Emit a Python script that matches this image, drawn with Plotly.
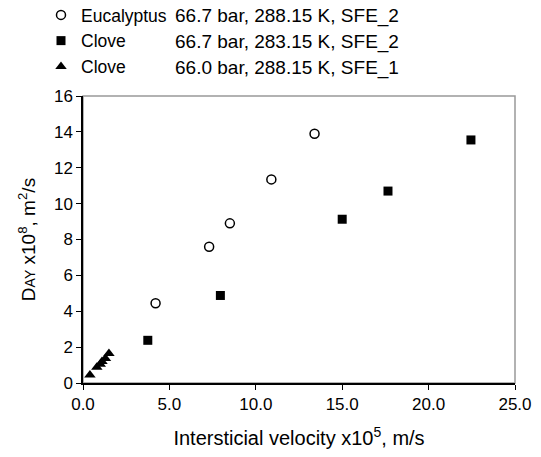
import plotly.graph_objects as go

# Data
euc_x = [4.2, 7.3, 8.5, 10.9, 13.4]
euc_y = [4.45, 7.6, 8.9, 11.35, 13.9]

clove2_x = [3.75, 7.95, 15.0, 17.65, 22.45]
clove2_y = [2.38, 4.88, 9.13, 10.7, 13.55]

clove1_x = [0.4, 0.8, 1.0, 1.1, 1.3, 1.5]
clove1_y = [0.45, 0.88, 1.05, 1.2, 1.37, 1.65]

names = ["Eucalyptus", "Clove", "Clove"]
conditions = ["66.7 bar, 288.15 K, SFE_2", "66.7 bar, 283.15 K, SFE_2", "66.0 bar, 288.15 K, SFE_1"]

x_ticks = [0, 5, 10, 15, 20, 25]
y_ticks = [0, 2, 4, 6, 8, 10, 12, 14, 16]

FONT = "Liberation Sans, Arial, sans-serif"

fig = go.Figure()
fig.add_trace(go.Scatter(x=euc_x, y=euc_y, mode="markers", name=names[0],
                         marker=dict(symbol="circle-open", size=9, color="black", line=dict(width=1.5, color="black"))))
fig.add_trace(go.Scatter(x=clove2_x, y=clove2_y, mode="markers", name=names[1],
                         marker=dict(symbol="square", size=9, color="black")))
fig.add_trace(go.Scatter(x=clove1_x, y=clove1_y, mode="markers", name=names[2],
                         marker=dict(symbol="triangle-up", size=10, color="black")))

W, H = 541, 457
L, R, T, B = 83, 26, 96, 74
PW, PH = W - L - R, H - T - B

# Gray plot-area frame (top/right), axes lines drawn black on top
fig.add_shape(type="rect", xref="paper", yref="paper", x0=0, x1=1, y0=0, y1=1,
              line=dict(color="#999999", width=1.5), layer="below")

row_y = [16, 42, 68]
for cond, ry in zip(conditions, row_y):
    fig.add_annotation(text=cond, xref="paper", yref="paper",
                       x=(173 - L) / PW, y=(H - B - ry) / PH,
                       xanchor="left", yanchor="middle", showarrow=False,
                       font=dict(size=19, color="black", family=FONT))

legend_top_px = -3
legend_left_px = 41

fig.update_layout(
    width=W, height=H,
    margin=dict(l=L, r=R, t=T, b=B, autoexpand=False),
    paper_bgcolor="white", plot_bgcolor="white",
    font=dict(family=FONT, color="black", size=17),
    legend=dict(x=(legend_left_px - L) / PW, y=(H - B - legend_top_px) / PH,
                xanchor="left", yanchor="top", bgcolor="rgba(0,0,0,0)",
                font=dict(size=17.5), itemwidth=30, tracegroupgap=0),
    xaxis=dict(range=[0, 25], tickvals=x_ticks, ticktext=[f"{v:.1f}" for v in x_ticks],
               showgrid=False, zeroline=False, showline=True, linecolor="black", linewidth=1.5,
               ticks="outside", ticklen=5, tickcolor="black",
               title=dict(text="Intersticial velocity x10<sup>5</sup>, m/s", font=dict(size=20), standoff=18)),
    yaxis=dict(range=[0, 16], tickvals=y_ticks,
               showgrid=False, zeroline=False, showline=True, linecolor="black", linewidth=1.5,
               ticks="outside", ticklen=5, tickcolor="black",
               title=dict(text="D<span style='font-size:14px'>AY</span> x10<sup>8</sup>, m<sup>2</sup>/s",
                          font=dict(size=19), standoff=13)),
)

fig.write_html("out.html", config={"displayModeBar": False},
               post_script="document.body.style.margin='0';document.body.style.padding='0';")
